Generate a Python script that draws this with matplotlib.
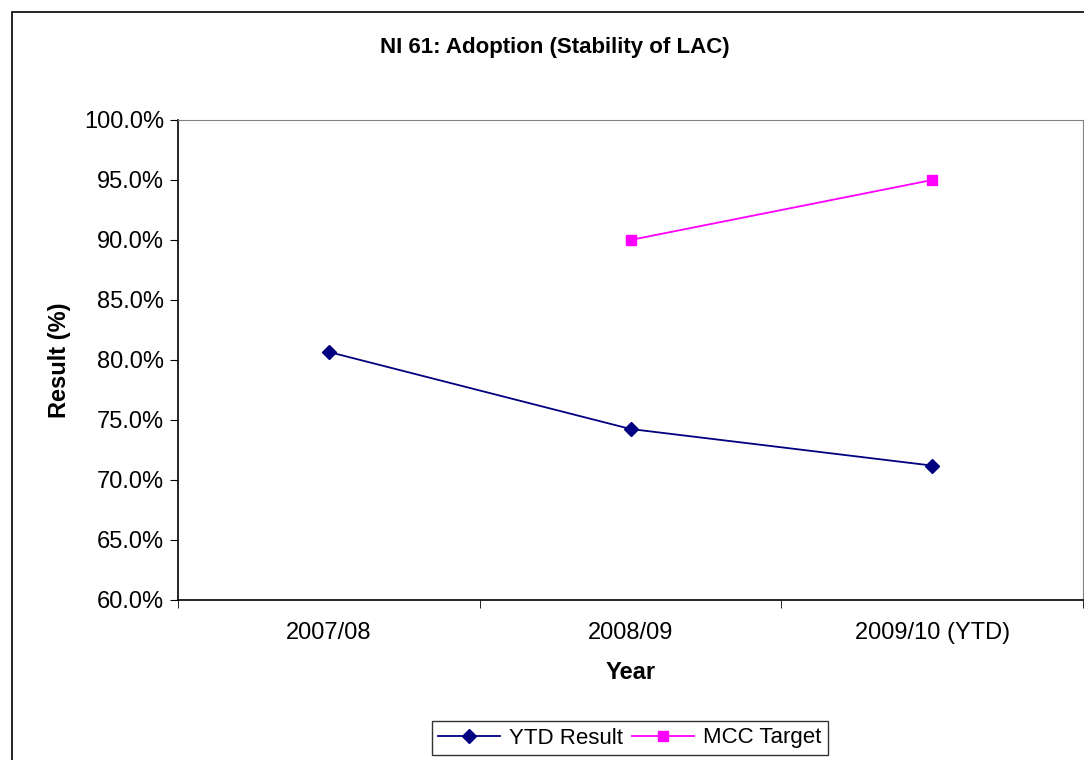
import matplotlib
matplotlib.use("Agg")
import matplotlib.pyplot as plt
from matplotlib.patches import Rectangle
import numpy as np

categories = ["2007/08", "2008/09", "2009/10 (YTD)"]
ytd_result = [80.67, 74.25, 71.2]
mcc_target = [np.nan, 90.0, 95.0]
y_ticks = [60, 65, 70, 75, 80, 85, 90, 95, 100]

plt.rcParams['font.family'] = ['Liberation Sans', 'DejaVu Sans']

fig = plt.figure(figsize=(10.84, 7.6), dpi=100)
# outer chart border
fig.patches.append(Rectangle((12/1084, -0.1), 1.2, (760-12)/760 + 0.1,
                             transform=fig.transFigure, fill=False,
                             edgecolor='black', linewidth=1.2, zorder=0))

ax = fig.add_axes([178/1084, (760-600)/760, 905/1084, 480/760])
x = np.arange(len(categories))
ax.plot(x, ytd_result, color='#000080', marker='D', markersize=7, linewidth=1.3,
        label='YTD Result')
ax.plot(x, mcc_target, color='#FF00FF', marker='s', markersize=6.5, linewidth=1.3,
        label='MCC Target')

ax.set_xlim(-0.5, len(categories) - 0.5)
ax.set_ylim(60, 100)
ax.set_yticks(y_ticks)
ax.set_yticklabels([f"{v:.1f}%" for v in y_ticks], fontsize=17)
ax.set_xticks(x)
ax.set_xticklabels(categories, fontsize=17)
ax.tick_params(axis='x', length=0, pad=16)
ax.set_xticks(np.arange(-0.5, len(categories)), minor=True)
ax.tick_params(axis='x', which='minor', length=6, direction='out', color='black')
ax.tick_params(axis='y', length=6, direction='out', pad=4)

for s in ['top', 'right']:
    ax.spines[s].set_color('#808080')
for s in ['left', 'bottom']:
    ax.spines[s].set_color('black')
    ax.spines[s].set_linewidth(1.2)

ax.set_ylabel('Result (%)', fontsize=17, fontweight='bold', labelpad=9)
ax.set_xlabel('Year', fontsize=17, fontweight='bold', labelpad=12)
fig.text(555/1084, 1 - 48/760, 'NI 61: Adoption (Stability of LAC)', ha='center',
         va='center', fontsize=16, fontweight='bold')

leg = fig.legend(loc='center', bbox_to_anchor=(630/1084, 1 - 738/760), ncol=2,
                 fontsize=16, frameon=True, fancybox=False, edgecolor='black',
                 handlelength=2.8, handletextpad=0.4, columnspacing=0.4,
                 borderpad=0.3)
leg.get_frame().set_linewidth(1.0)

fig.savefig('out.png', dpi=100)
